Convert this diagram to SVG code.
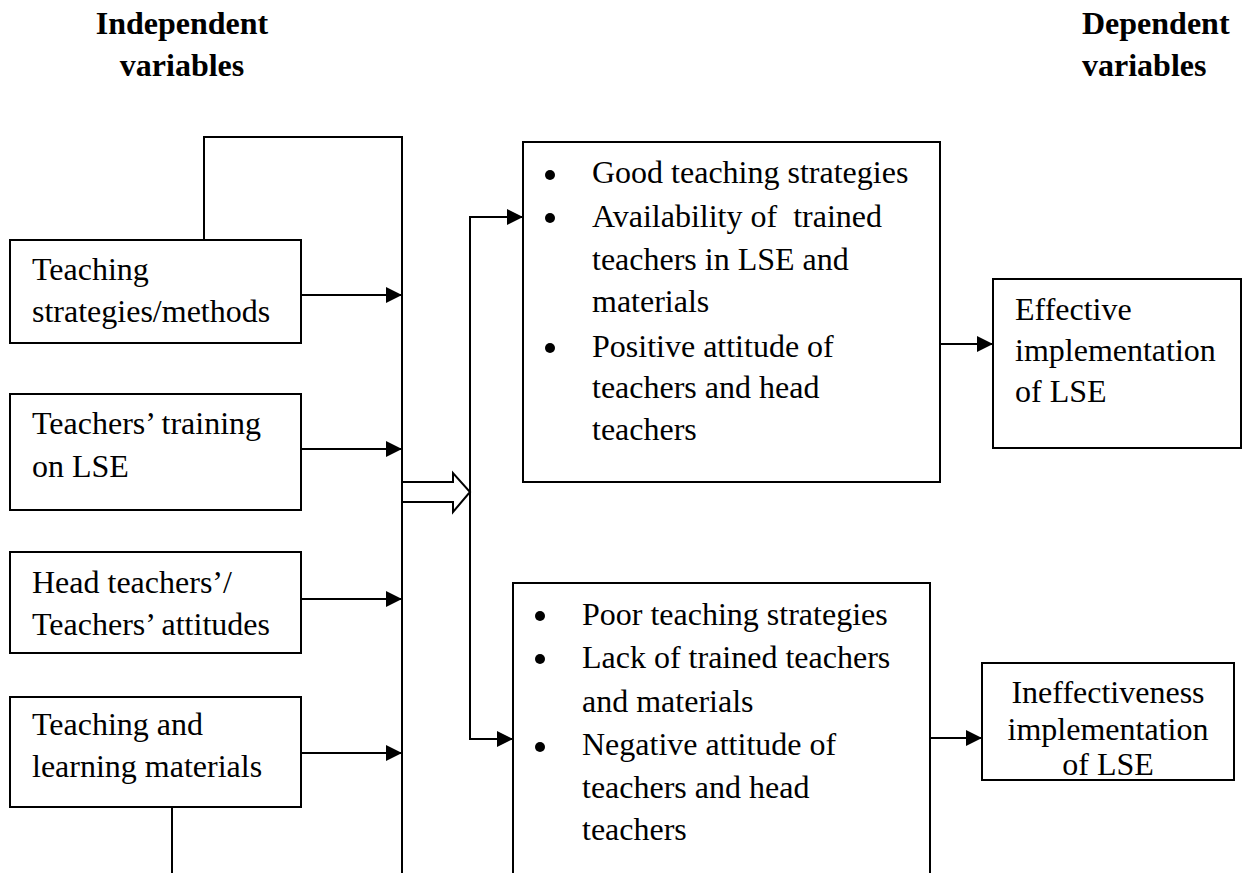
<svg xmlns="http://www.w3.org/2000/svg" width="1242" height="873" viewBox="0 0 1242 873">
<style>
  .box { fill: #ffffff; stroke: #000000; stroke-width: 2; }
  .ln { fill: none; stroke: #000000; stroke-width: 2; }
  text { font-family: "Liberation Serif", "Times New Roman", serif; font-size: 32px; fill: #000000; }
  .hd { font-weight: bold; }
  .mid { text-anchor: middle; }
</style>
<defs>
  <marker id="ah" viewBox="0 0 16 16" refX="16" refY="8" markerWidth="16" markerHeight="16" markerUnits="userSpaceOnUse" orient="auto">
    <path d="M0,0 L16,8 L0,16 Z" fill="#000000"/>
  </marker>
</defs>
<rect width="1242" height="873" fill="#ffffff"/>

<g id="headings">
  <text class="hd mid" x="182" y="34">Independent</text>
  <text class="hd mid" x="182" y="76">variables</text>
  <text class="hd" x="1082" y="34">Dependent</text>
  <text class="hd" x="1082" y="76">variables</text>
</g>

<g id="connectors">
  <path class="ln" d="M204,240 V137 H402 V873"/>
  <path class="ln" d="M172,807 V873"/>
  <line class="ln" x1="301" y1="295" x2="402" y2="295" marker-end="url(#ah)"/>
  <line class="ln" x1="301" y1="449" x2="402" y2="449" marker-end="url(#ah)"/>
  <line class="ln" x1="301" y1="599" x2="402" y2="599" marker-end="url(#ah)"/>
  <line class="ln" x1="301" y1="753" x2="402" y2="753" marker-end="url(#ah)"/>
  <polygon points="402,482 453,482 453,473 470,492 453,512 453,502 402,502" fill="#ffffff" stroke="#000000" stroke-width="2"/>
  <path class="ln" d="M523,217 H470 V739 H513"/>
  <line class="ln" x1="470" y1="217" x2="523" y2="217" marker-end="url(#ah)"/>
  <line class="ln" x1="470" y1="739" x2="513" y2="739" marker-end="url(#ah)"/>
  <line class="ln" x1="940" y1="344" x2="993" y2="344" marker-end="url(#ah)"/>
  <line class="ln" x1="930" y1="738" x2="982" y2="738" marker-end="url(#ah)"/>
</g>

<g id="n1">
  <rect class="box" x="10" y="240" width="291" height="103"/>
  <text x="32" y="280">Teaching</text>
  <text x="32" y="322">strategies/methods</text>
</g>
<g id="n2">
  <rect class="box" x="10" y="394" width="291" height="116"/>
  <text x="32" y="434">Teachers’ training</text>
  <text x="32" y="477">on LSE</text>
</g>
<g id="n3">
  <rect class="box" x="10" y="552" width="291" height="101"/>
  <text x="32" y="593">Head teachers’/</text>
  <text x="32" y="635">Teachers’ attitudes</text>
</g>
<g id="n4">
  <rect class="box" x="10" y="697" width="291" height="110"/>
  <text x="32" y="735">Teaching and</text>
  <text x="32" y="777">learning materials</text>
</g>

<g id="n5">
  <rect class="box" x="523" y="142" width="417" height="340"/>
  <circle cx="550" cy="175" r="5"/>
  <circle cx="550" cy="218" r="5"/>
  <circle cx="550" cy="348" r="5"/>
  <text x="592" y="183">Good teaching strategies</text>
  <text x="592" y="227" xml:space="preserve">Availability of  trained</text>
  <text x="592" y="270">teachers in LSE and</text>
  <text x="592" y="312">materials</text>
  <text x="592" y="357">Positive attitude of</text>
  <text x="592" y="398">teachers and head</text>
  <text x="592" y="440">teachers</text>
</g>

<g id="n6">
  <rect class="box" x="513" y="583" width="417" height="300"/>
  <circle cx="540" cy="616" r="5"/>
  <circle cx="540" cy="659" r="5"/>
  <circle cx="540" cy="747" r="5"/>
  <text x="582" y="625">Poor teaching strategies</text>
  <text x="582" y="668">Lack of trained teachers</text>
  <text x="582" y="712">and materials</text>
  <text x="582" y="755">Negative attitude of</text>
  <text x="582" y="798">teachers and head</text>
  <text x="582" y="840">teachers</text>
</g>

<g id="n7">
  <rect class="box" x="993" y="279" width="248" height="169"/>
  <text x="1015" y="320">Effective</text>
  <text x="1015" y="361">implementation</text>
  <text x="1015" y="402">of LSE</text>
</g>

<g id="n8">
  <rect class="box" x="982" y="663" width="252" height="117"/>
  <text class="mid" x="1108" y="703">Ineffectiveness</text>
  <text class="mid" x="1108" y="740">implementation</text>
  <text class="mid" x="1108" y="775">of LSE</text>
</g>
</svg>
